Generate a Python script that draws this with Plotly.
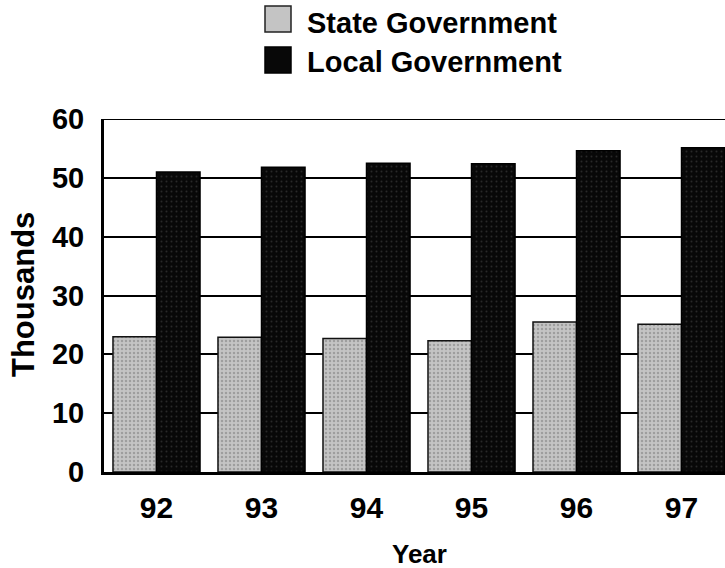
import plotly.graph_objects as go

years = ["92", "93", "94", "95", "96", "97"]
state_gov = [23.0, 22.9, 22.7, 22.3, 25.5, 25.1]
local_gov = [51.0, 51.8, 52.5, 52.4, 54.6, 55.1]
series_names = ["State Government", "Local Government"]
y_ticks = [0, 10, 20, 30, 40, 50, 60]

FONT = "Liberation Sans, Arial, Helvetica, sans-serif"

fig = go.Figure()
fig.add_trace(go.Bar(
    x=years, y=state_gov, name=series_names[0], showlegend=False,
    marker=dict(color="#bdbdbd", line=dict(color="#111", width=1.5),
                pattern=dict(shape=".", fgcolor="#777777", bgcolor="#c4c4c4", size=4, solidity=0.3)),
))
fig.add_trace(go.Bar(
    x=years, y=local_gov, name=series_names[1], showlegend=False,
    marker=dict(color="#080808", line=dict(color="#000", width=1.5),
                pattern=dict(shape=".", fgcolor="#4a4a4a", bgcolor="#080808", size=5, solidity=0.12)),
))

L, R, T, B = 104, 0, 119, 96
W, H = 725, 568
pw = W - L - R
ph = H - T - B

def px_x(x):
    return (x - L) / pw

def px_y(y):
    return (H - B - y) / ph

shapes = [
    dict(type="line", xref="paper", yref="y", x0=0, x1=1, y0=60, y1=60,
         line=dict(color="#000", width=2), layer="below"),
    dict(type="rect", xref="paper", yref="paper", x0=px_x(265), x1=px_x(291),
         y0=px_y(32), y1=px_y(6), fillcolor="#c4c4c4", line=dict(color="#222", width=1.5)),
    dict(type="rect", xref="paper", yref="paper", x0=px_x(265), x1=px_x(291),
         y0=px_y(73), y1=px_y(47), fillcolor="#080808", line=dict(color="#000", width=1.5)),
]

annotations = [
    dict(text="<b>" + series_names[0] + "</b>", x=px_x(305), y=px_y(23.5), xref="paper", yref="paper",
         xanchor="left", yanchor="middle", showarrow=False, font=dict(family=FONT, size=29, color="#000")),
    dict(text="<b>" + series_names[1] + "</b>", x=px_x(305), y=px_y(62), xref="paper", yref="paper",
         xanchor="left", yanchor="middle", showarrow=False, font=dict(family=FONT, size=29, color="#000")),
    dict(text="<b>Year</b>", x=px_x(419), y=px_y(554), xref="paper", yref="paper",
         xanchor="center", yanchor="middle", showarrow=False, font=dict(family=FONT, size=26, color="#000")),
    dict(text="<b>Thousands</b>", x=px_x(23), y=px_y(295), xref="paper", yref="paper",
         xanchor="center", yanchor="middle", textangle=-90, showarrow=False,
         font=dict(family=FONT, size=31, color="#000")),
]

fig.update_layout(
    width=W, height=H,
    margin=dict(l=L, r=R, t=T, b=B, pad=0),
    paper_bgcolor="white", plot_bgcolor="white",
    barmode="group", bargap=0.171, bargroupgap=0,
    shapes=shapes, annotations=annotations,
    font=dict(family=FONT, color="#000"),
)
fig.update_xaxes(
    type="category", range=[-0.5, 5.414],
    showgrid=False, showline=True, linecolor="#000", linewidth=3,
    ticks="", tickfont=dict(family=FONT, size=30, color="#000", weight="bold"),
    ticklabelstandoff=7,
)
fig.update_yaxes(
    range=[0, 60], tickvals=y_ticks,
    showgrid=True, gridcolor="#000", gridwidth=1.5,
    showline=True, linecolor="#000", linewidth=3, zeroline=False,
    ticks="", tickfont=dict(family=FONT, size=29, color="#000", weight="bold"),
    ticklabelstandoff=11,
)

fig.write_html("out.html")
